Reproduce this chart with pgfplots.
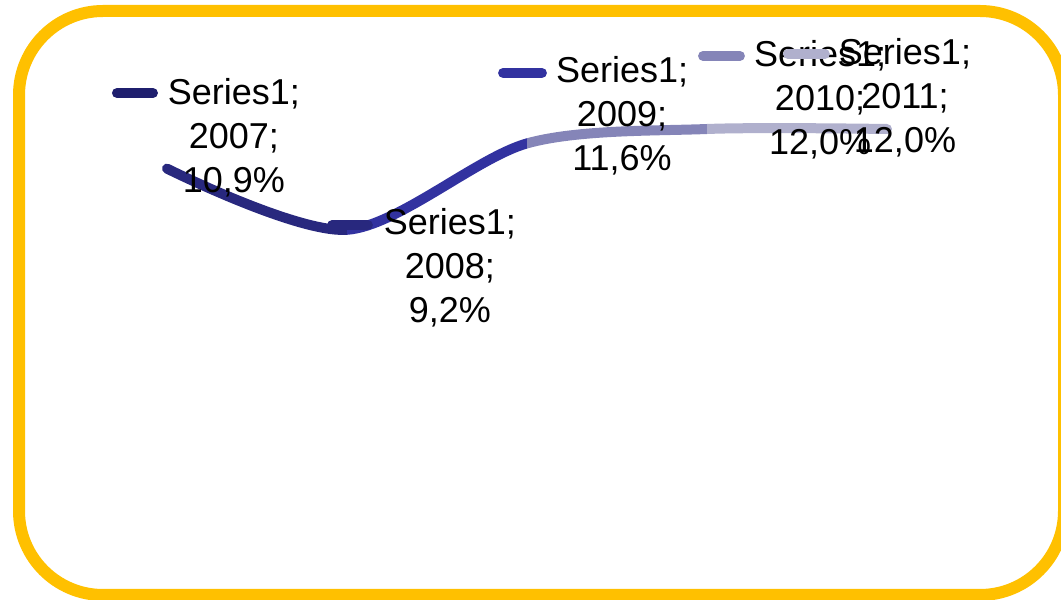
\documentclass[border=0pt]{standalone}
\usepackage{pgfplots}
\pgfplotsset{compat=1.18}
\usepackage{pgfplotstable}
\usepackage{fontspec}
\setmainfont{Liberation Sans}
\definecolor{bordercol}{HTML}{FFC000}
\definecolor{cA}{HTML}{1F1F6E}
\definecolor{cB}{HTML}{28287E}
\definecolor{cC}{HTML}{3232A0}
\definecolor{cD}{HTML}{8585B8}
\definecolor{cE}{HTML}{B0B0CD}
\pgfplotstableread{
x y
0 10.9
1 9.2
2 11.6
3 12.0
4 12.0
}\datatable
\begin{document}
\begin{tikzpicture}
\draw[bordercol, line width=6pt, rounded corners=42pt] (9.5pt,2.5pt) rectangle (532pt,294.5pt);
\begin{axis}[at={(38.5pt,19.5pt)}, anchor=south west, scale only axis,
  width=450pt, height=252pt, xmin=-0.5, xmax=4.5, ymin=0, ymax=14,
  axis lines=none, ticks=none, clip=false]
\begin{scope}
\clip (axis cs:-1,-1) rectangle (axis cs:1,16);
\addplot[cB, line width=5pt, line cap=round, smooth] table {\datatable};
\end{scope}
\begin{scope}
\clip (axis cs:1,-1) rectangle (axis cs:2,16);
\addplot[cC, line width=5pt, line cap=round, smooth] table {\datatable};
\end{scope}
\begin{scope}
\clip (axis cs:2,-1) rectangle (axis cs:3,16);
\addplot[cD, line width=5pt, line cap=round, smooth] table {\datatable};
\end{scope}
\begin{scope}
\clip (axis cs:3,-1) rectangle (axis cs:5,16);
\addplot[cE, line width=5pt, line cap=round, smooth] table {\datatable};
\end{scope}
\tikzset{lab/.style={align=center, inner sep=0pt, font=\fontsize{18pt}{22pt}\selectfont, text=black}}
% data labels with legend keys, drawn point by point
\draw[cA, line width=5pt, line cap=round] (axis cs:-0.278,13.0) -- (axis cs:-0.078,13.0);
\node[lab] at (axis cs:0.372,11.75) {Series1;\\2007;\\10,9\%};
\draw[cB, line width=5pt, line cap=round] (axis cs:0.917,9.33) -- (axis cs:1.116,9.33);
\node[lab] at (axis cs:1.572,8.14) {Series1;\\2008;\\9,2\%};
\draw[cC, line width=5pt, line cap=round] (axis cs:1.867,13.56) -- (axis cs:2.083,13.56);
\node[lab] at (axis cs:2.528,12.36) {Series1;\\2009;\\11,6\%};
\draw[cD, line width=5pt, line cap=round] (axis cs:2.978,14.03) -- (axis cs:3.183,14.03);
\node[lab] at (axis cs:3.628,12.81) {Series1;\\2010;\\12,0\%};
\draw[cE, line width=5pt, line cap=round] (axis cs:3.45,14.08) -- (axis cs:3.655,14.08);
\node[lab] at (axis cs:4.1,12.86) {Series1;\\2011;\\12,0\%};
\end{axis}
\pgfresetboundingbox
\useasboundingbox (0,0) rectangle (530.5pt,300pt);
\end{tikzpicture}
\end{document}
